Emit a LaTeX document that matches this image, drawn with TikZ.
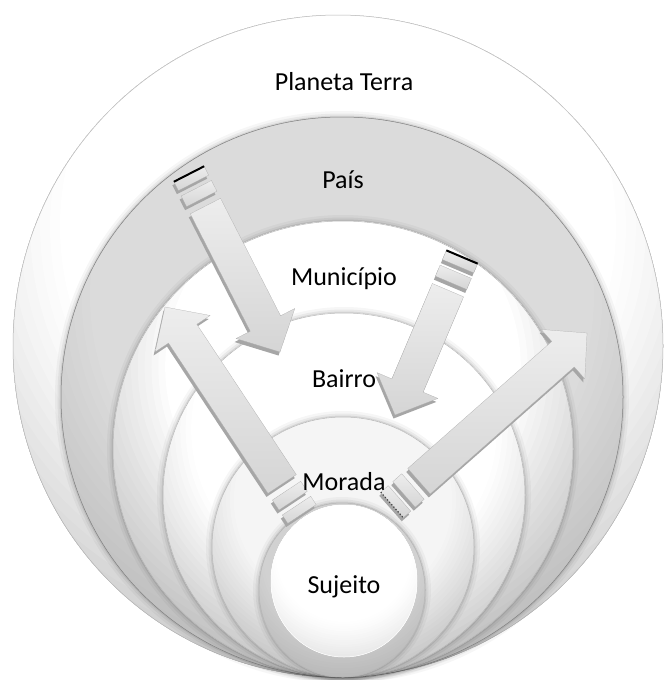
\documentclass[tikz,border=0pt]{standalone}
\usepackage{fontspec}
\setmainfont{Carlito}
\usetikzlibrary{calc}
\definecolor{edge}{HTML}{B5B5B5}
\definecolor{arrL}{HTML}{EDEDED}
\definecolor{arrD}{HTML}{D5D5D5}
\definecolor{arrS}{HTML}{A6A6A6}
\def\sw{17pt}
\def\hw{33pt}
\def\hl{32pt}
\def\bs{36pt}
\newcommand{\cshadow}[3]{%
  \foreach \w/\o in {12/0.035, 7/0.05, 3/0.08}{%
    \draw[line width=\w pt, black, opacity=\o] (#1) ellipse [x radius=#2pt, y radius=#3pt];}%
}
% disc: #1 centre, #2 rx, #3 ry, #4 black% inside, #5 black% at 50, #6 start (of 50), #7 exponent, #8 rim colour
% gradient is centred 0.36 ry above the centre, 50 units = 1.5 ry
\newcommand{\disc}[8]{%
  \begin{scope}
    \clip (#1) ellipse [x radius=#2pt, y radius=#3pt];
    \foreach \b in {50,49,...,#6}{%
      \pgfmathsetmacro\pp{#4+(#5-#4)*(((\b-#6)/(50-#6))+0.0001)^#7}%
      \fill[black!\pp] ($(#1)+(0,-0.36*#3)$) circle [radius=\b/50*1.5*#3pt];
    }
    \fill[black!#4] ($(#1)+(0,-0.36*#3)$) circle [radius=(#6-0.5)/50*1.5*#3pt];
  \end{scope}
  \draw[draw=#8, line width=0.5pt] (#1) ellipse [x radius=#2pt, y radius=#3pt];
}
\newcommand{\apoly}[4]{%
  \path[#1] ($(#2)!\bs!(#3)!\sw!90:(#3)+#4$)
    -- ($(#3)!\hl!(#2)!\sw!-90:(#2)+#4$)
    -- ($(#3)!\hl!(#2)!\hw!-90:(#2)+#4$)
    -- ($(#3)+#4$)
    -- ($(#3)!\hl!(#2)!\hw!90:(#2)+#4$)
    -- ($(#3)!\hl!(#2)!\sw!90:(#2)+#4$)
    -- ($(#2)!\bs!(#3)!\sw!-90:(#3)+#4$) -- cycle;
  \path[#1] ($(#2)!\sw!90:(#3)+#4$) -- ($(#2)!10pt!(#3)!\sw!-90:(#2)+#4$)
    -- ($(#2)!10pt!(#3)!\sw!90:(#2)+#4$) -- ($(#2)!\sw!-90:(#3)+#4$) -- cycle;
  \path[#1] ($(#2)!16pt!(#3)!\sw!-90:(#2)+#4$) -- ($(#2)!28pt!(#3)!\sw!-90:(#2)+#4$)
    -- ($(#2)!28pt!(#3)!\sw!90:(#2)+#4$) -- ($(#2)!16pt!(#3)!\sw!90:(#2)+#4$) -- cycle;
}
\newcommand{\sarrow}[2]{%
  \apoly{fill=arrS}{#1}{#2}{(-1.5,3.5)}%
  \apoly{top color=arrL, bottom color=arrD, draw=arrD!80!black, line width=0.2pt}{#1}{#2}{(0,0)}%
}
\tikzset{
  lbl/.style={font=\fontsize{26}{30}\selectfont, text=black, anchor=base, inner sep=0pt}
}
\begin{document}
\begin{tikzpicture}[x=1pt,y=-1pt]
\useasboundingbox (0,0) rectangle (665,680);
\fill[white] (0,0) rectangle (665,680);
% nested circles
\coordinate (cPl) at (338,346);
\coordinate (cPa) at (342,397);
\coordinate (cMu) at (343,449);
\coordinate (cBa) at (344,495);
\coordinate (cMo) at (343,547);
\coordinate (cSu) at (342,590);
\coordinate (cSi) at (344,581);
\disc{cPl}{325}{331}{0}{26}{28}{1.2}{edge}
\cshadow{cPa}{281}{280}
\disc{cPa}{281}{280}{14}{30}{30}{1}{edge!70!black}
\cshadow{cMu}{230}{228}
\disc{cMu}{230}{228}{0}{30}{26}{0.9}{edge}
\cshadow{cBa}{181}{182}
\disc{cBa}{181}{182}{0}{28}{28}{1.1}{edge}
\cshadow{cMo}{131}{130}
\disc{cMo}{131}{130}{4}{28}{28}{1.1}{edge}
\cshadow{cSu}{83}{87}
\disc{cSu}{83}{87}{18}{30}{30}{1}{edge}
\disc{cSi}{73}{76}{0}{12}{30}{1.2}{white}
% arrows
\coordinate (a1t) at (189,174);
\coordinate (a1h) at (280,352);
\coordinate (a2t) at (462,257);
\coordinate (a2h) at (395,415);
\coordinate (a3t) at (302,514);
\coordinate (a3h) at (165,307);
\coordinate (a4t) at (392,505);
\coordinate (a4h) at (587,333);
\sarrow{a1t}{a1h}
\sarrow{a2t}{a2h}
\sarrow{a3t}{a3h}
\sarrow{a4t}{a4h}
\draw[black, line width=2pt] ($(a1t)!\sw!90:(a1h)$) -- ($(a1t)!\sw!-90:(a1h)$);
\draw[black, line width=2pt] ($(a2t)!\sw!90:(a2h)$) -- ($(a2t)!\sw!-90:(a2h)$);
\draw[black!75, line width=1.2pt, dotted] ($(a4t)!\sw!90:(a4h)$) -- ($(a4t)!\sw!-90:(a4h)$);
% labels
\node[lbl] (tPl) at (344,90) {Planeta Terra};
\node[lbl] (tPa) at (343,188) {País};
\node[lbl] (tMu) at (344,285) {Município};
\node[lbl] (tBa) at (344,387) {Bairro};
\node[lbl] (tMo) at (344,490) {Morada};
\node[lbl] (tSu) at (344,593) {Sujeito};
\end{tikzpicture}
\end{document}
